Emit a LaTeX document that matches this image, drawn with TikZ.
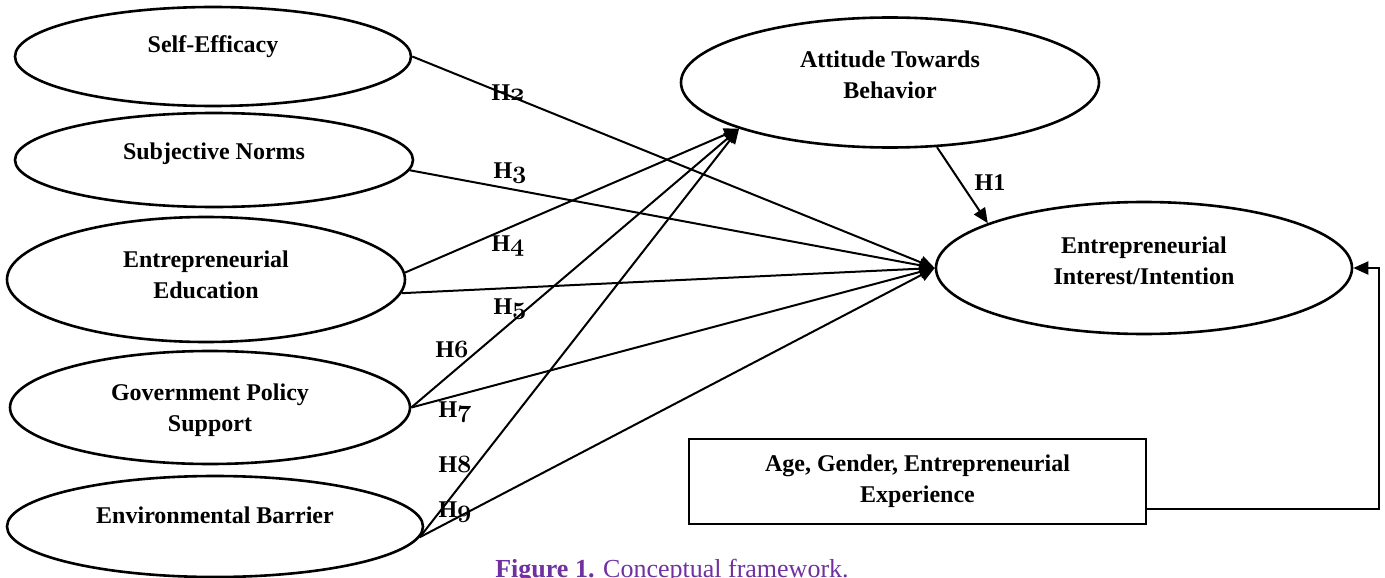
\documentclass[tikz,border=0pt]{standalone}
\usepackage{fontspec}
\setmainfont{Liberation Serif}
\usetikzlibrary{shapes.geometric,arrows.meta,calc}
\definecolor{capcol}{RGB}{112,48,160}
\newcommand\twolines[2]{\vbox{\halign{\hfil##\hfil\cr#1\cr#2\cr}}}
\newcommand\osn[1]{{\usefont{OML}{cmm}{b}{it}#1}}
\begin{document}
\begin{tikzpicture}[x=1pt,y=-1pt,
  mainfont/.style={font=\bfseries\fontsize{24}{31}\selectfont},
  ell/.style={draw, ellipse, line width=2.6pt, inner sep=0pt, mainfont},
  boxnode/.style={draw, rectangle, line width=2.6pt, inner sep=0pt, mainfont},
  conn/.style={line width=2pt, -{Triangle[length=15pt,width=13pt]}},
  hlab/.style={font=\bfseries\fontsize{24}{28}\selectfont, inner sep=0pt, text height=16pt, text depth=0pt}
]
\useasboundingbox (0,0) rectangle (1385,578);

% left ellipses
\node[ell, minimum width=396pt, minimum height=99pt, text height=0pt, text depth=7pt] (SE) at (213,56.5) {Self-Efficacy};
\node[ell, minimum width=398pt, minimum height=94pt, text height=0pt, text depth=2pt] (SN) at (214,160) {Subjective Norms};
\node[ell, minimum width=398pt, minimum height=125pt, text height=37pt, text depth=0pt] (EE) at (206,279.5) {\twolines{Entrepreneurial}{Education}};
\node[ell, minimum width=400pt, minimum height=113pt, text height=47pt, text depth=0pt] (GPS) at (210,407.5) {\twolines{Government Policy}{Support}};
\node[ell, minimum width=416pt, minimum height=101pt, text height=0pt, text depth=7pt] (EB) at (215,526.5) {Environmental Barrier};

% right ellipses
\node[ell, minimum width=418pt, minimum height=130pt, text height=33pt, text depth=0pt] (ATB) at (890,82.5) {\twolines{Attitude Towards}{Behavior}};
\node[ell, minimum width=416pt, minimum height=132pt, text height=32pt, text depth=0pt] (EI) at (1144,268) {\twolines{Entrepreneurial}{Interest/Intention}};

% control variables box
\node[boxnode, minimum width=457pt, minimum height=85pt, text height=41pt, text depth=0pt] (CV) at (917.5,481.5) {\twolines{Age, Gender, Entrepreneurial}{Experience}};

% connectors
\draw[conn] (SE.east) -- (EI.west);
\draw[conn] (SN.-3) -- (EI.west);
\draw[conn] (EE.2) -- (ATB.197);
\draw[conn] (EE.-4) -- (EI.west);
\draw[conn] (GPS.east) -- (ATB.197);
\draw[conn] (GPS.east) -- (EI.west);
\draw[conn] (EB.-3) -- (ATB.197);
\draw[conn] (EB.-3) -- (EI.west);
\draw[conn] (ATB.-54) -- (EI.164);

\coordinate (fbA) at ($(CV.south east)+(0,-16)$);
\coordinate (fbC) at (1379,400);
\draw[conn] (fbA) -| (fbC) |- (EI.east);

% hypothesis labels
\node[hlab] (h1) at (990,182) {H1};
\node[hlab] (h2) at (508,92) {H\osn{2}};
\node[hlab] (h3) at (510,170) {H\osn{3}};
\node[hlab] (h4) at (508,243) {H\osn{4}};
\node[hlab] (h5) at (510,306) {H\osn{5}};
\node[hlab] (h6) at (452,349) {H\osn{6}};
\node[hlab] (h7) at (455,409) {H\osn{7}};
\node[hlab] (h8) at (455,464) {H\osn{8}};
\node[hlab] (h9) at (455,509) {H\osn{9}};

% caption
\node[font=\fontsize{26}{30}\selectfont, text=capcol, anchor=base, inner sep=0pt] (cap) at (672,577) {\textbf{Figure 1.} Conceptual framework.};
\end{tikzpicture}
\end{document}
